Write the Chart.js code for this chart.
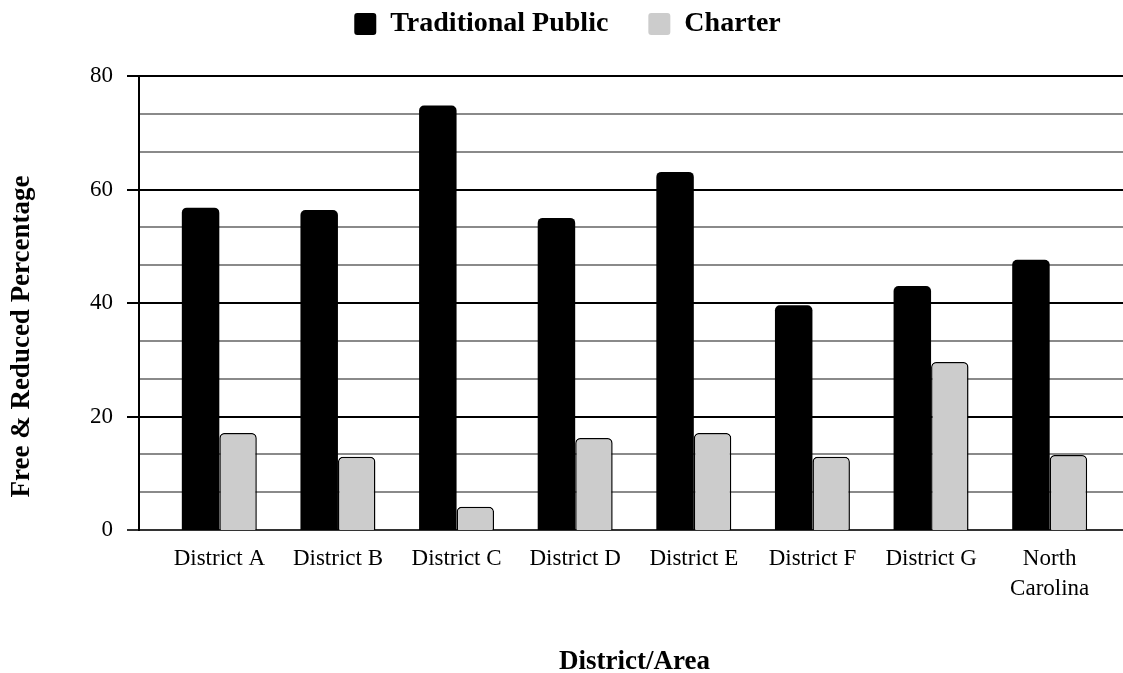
<!DOCTYPE html>
<html lang="en">
<head>
    <meta charset="UTF-8">
    <title>Free & Reduced Percentage</title>
    <style>
        html, body { margin: 0; padding: 0; background: #fff; }
        #wrap { width: 1123px; height: 673px; }
    </style>
</head>
<body>
<div id="wrap">
    <canvas id="myChart" width="1123" height="673"></canvas>
</div>

<script src="https://cdn.jsdelivr.net/npm/chart.js"></script>

<script>

    const areas = ['District A', 'District B', 'District C', 'District D', 'District E', 'District F', 'District G', ['North', 'Carolina']];
    const traditionalValues = [56.8, 56.4, 74.8, 55.0, 63.1, 39.6, 43.0, 47.6];
    const charterValues = [17.1, 12.9, 4.1, 16.2, 17.1, 12.9, 29.6, 13.2];
    const seriesNames = ['Traditional Public', 'Charter'];
    const Y_MIN = 0;
    const Y_MAX = 80;
    const LABEL_STEP = 20;

    const SERIF = "'Liberation Serif', 'Times New Roman', serif";
    const LEGEND_HEIGHT = 106;

    function isLabelled(v) {
        return Math.abs(v / LABEL_STEP - Math.round(v / LABEL_STEP)) < 1e-6;
    }

    // grid lines and the y axis line sit a bit outside the category area
    const gridPlugin = {
        id: 'gridPlugin',
        beforeLayout(chart) {
            // legend keeps its own look, only its reserved height is fixed
            const lg = chart.legend;
            if (lg && !lg._fixedHeight) {
                const fit = lg.fit.bind(lg);
                lg.fit = function() {
                    fit();
                    this.height = LEGEND_HEIGHT;
                };
                lg._fixedHeight = true;
            }
        },
        beforeDatasetsDraw(chart) {
            const c = chart.ctx;
            const area = chart.chartArea;
            const y = chart.scales.y;
            const axisX = area.left - 21;
            const rightX = area.right + 14;
            c.save();
            y.ticks.forEach(t => {
                const py = Math.round(y.getPixelForValue(t.value));
                const major = isLabelled(t.value);
                c.beginPath();
                c.lineWidth = 2;
                c.strokeStyle = t.value === 0 ? '#333' : (major ? '#000' : '#8a8a8a');
                c.moveTo(major ? axisX - 12 : axisX, py);
                c.lineTo(rightX, py);
                c.stroke();
            });
            c.beginPath();
            c.lineWidth = 2;
            c.strokeStyle = '#000';
            c.moveTo(axisX, y.getPixelForValue(Y_MAX) - 1);
            c.lineTo(axisX, y.getPixelForValue(Y_MIN) + 1);
            c.stroke();
            c.restore();
        },
        afterDraw(chart) {
            const c = chart.ctx;
            c.save();
            c.translate(22, chart.height / 2);
            c.rotate(-Math.PI / 2);
            c.fillStyle = '#000';
            c.font = 'bold 27px ' + SERIF;
            c.textAlign = 'center';
            c.textBaseline = 'middle';
            c.fillText('Free & Reduced Percentage', 0, 0);
            c.restore();
        }
    };

    const data = {
        labels: areas,
        datasets: [{
            label: seriesNames[0],
            data: traditionalValues,
            backgroundColor: '#000000',
            borderColor: '#000000',
            borderWidth: 0,
            borderRadius: {topLeft: 5, topRight: 5},
            borderSkipped: 'bottom'
        }, {
            label: seriesNames[1],
            data: charterValues,
            backgroundColor: '#cccccc',
            borderColor: '#000000',
            borderWidth: 1.5,
            borderRadius: {topLeft: 5, topRight: 5},
            borderSkipped: 'bottom'
        }]
    };

    const config = {
        type: 'bar',
        data: data,
        options: {
            responsive: false,
            animation: false,
            devicePixelRatio: 1,
            categoryPercentage: 0.632,
            barPercentage: 1,
            layout: {
                padding: {left: 26, right: 14, top: -30, bottom: 0}
            },
            plugins: {
                tooltip: false,
                legend: {
                    position: 'top',
                    labels: {
                        color: '#000',
                        font: {family: SERIF, size: 28, weight: 'bold'},
                        boxWidth: 22,
                        boxHeight: 22,
                        padding: 40,
                        useBorderRadius: true,
                        borderRadius: 3,
                        generateLabels(chart) {
                            return chart.data.datasets.map((ds, i) => ({
                                text: ds.label,
                                fillStyle: ds.backgroundColor,
                                strokeStyle: ds.backgroundColor,
                                lineWidth: 0,
                                borderRadius: 3,
                                fontColor: '#000',
                                datasetIndex: i,
                                hidden: false
                            }));
                        }
                    }
                }
            },
            scales: {
                x: {
                    grid: {display: false, drawTicks: false},
                    border: {display: false},
                    ticks: {
                        color: '#000',
                        font: {family: SERIF, size: 23, lineHeight: 1.3},
                        padding: 14,
                        maxRotation: 0,
                        autoSkip: false
                    },
                    title: {
                        display: true,
                        text: 'District/Area',
                        color: '#000',
                        font: {family: SERIF, size: 27, weight: 'bold', lineHeight: 0.8},
                        padding: {top: 44, bottom: 0}
                    },
                    afterFit(scale) {
                        scale.height = 143;
                    }
                },
                y: {
                    min: Y_MIN,
                    max: Y_MAX,
                    grid: {display: false, drawTicks: false},
                    border: {display: false},
                    ticks: {
                        stepSize: LABEL_STEP / 3,
                        color: '#000',
                        font: {family: SERIF, size: 23},
                        padding: 47,
                        callback(value) {
                            return isLabelled(value) ? String(Math.round(value)) : '';
                        }
                    },
                    afterFit(scale) {
                        scale.width = 134;
                    }
                }
            }
        },
        plugins: [gridPlugin]
    };

    const ctx = document.getElementById('myChart').getContext('2d');
    const chart = new Chart(ctx, config);

</script>

</body>
</html>
